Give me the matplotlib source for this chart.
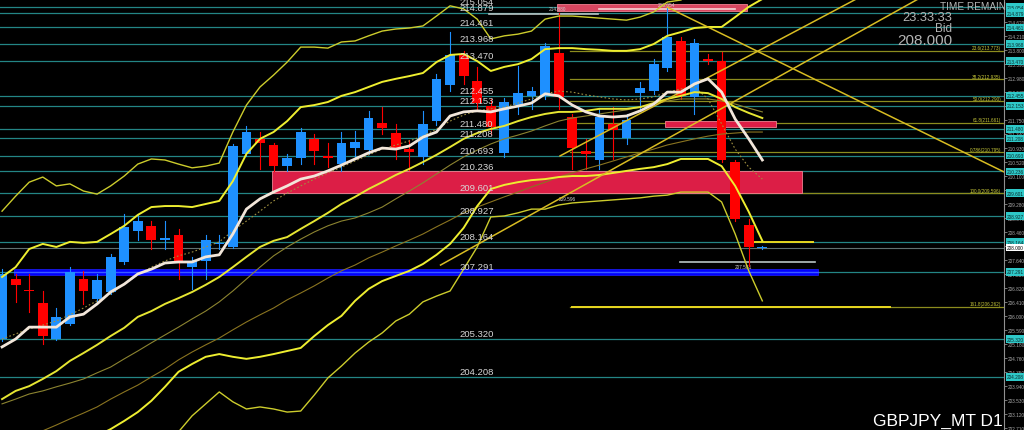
import matplotlib
matplotlib.use('Agg')
from matplotlib import pyplot as plt
from matplotlib.patches import Rectangle

plt.rcParams['font.family'] = ['Liberation Sans', 'DejaVu Sans']

# GBPJPY D1 candles, oldest first
OPEN = [205.32, 207.08, 206.76, 206.38, 205.32, 205.76, 207.08, 206.50, 206.70, 207.58,
        208.49, 208.64, 208.23, 208.37, 207.43, 207.61, 208.11, 208.02, 210.75, 211.19,
        211.01, 210.39, 210.63, 211.19, 210.69, 210.45, 210.92, 210.86, 211.65, 211.36,
        210.89, 210.66, 211.71, 212.77, 213.65, 212.89, 212.15, 210.78, 212.18, 212.45,
        212.45, 213.71, 211.83, 210.83, 210.57, 211.63, 211.21, 212.53, 212.59, 213.27,
        214.06, 212.42, 213.53, 213.47, 210.51, 208.66, 207.99]
HIGH = [207.37, 207.23, 207.23, 206.73, 206.23, 207.43, 207.32, 207.23, 207.82, 208.99,
        208.99, 208.78, 208.78, 208.55, 207.73, 208.37, 208.37, 211.04, 211.57, 211.39,
        211.07, 210.75, 211.51, 211.33, 211.07, 211.39, 211.42, 212.01, 212.12, 211.63,
        211.16, 212.01, 213.09, 214.32, 213.77, 213.30, 212.36, 212.39, 213.33, 212.71,
        214.00, 214.88, 211.92, 211.19, 212.07, 212.12, 211.92, 212.86, 213.53, 215.05,
        214.17, 214.12, 213.68, 213.74, 210.57, 208.84, 208.05]
LOW = [205.26, 206.41, 206.11, 205.18, 205.29, 205.73, 206.35, 206.35, 206.64, 207.52,
       208.23, 207.96, 207.96, 207.08, 206.79, 207.08, 207.96, 208.00, 210.69, 210.31,
       210.25, 210.25, 210.45, 210.45, 210.36, 210.25, 210.60, 210.75, 211.33, 210.60,
       210.28, 210.45, 211.60, 212.59, 212.80, 212.07, 211.33, 210.66, 211.92, 212.07,
       212.36, 212.07, 210.31, 210.31, 210.31, 210.60, 211.04, 212.07, 212.50, 213.18,
       212.36, 211.92, 213.38, 210.51, 208.78, 207.46, 207.96]
CLOSE = [207.23, 206.91, 206.73, 205.41, 205.97, 207.29, 206.73, 207.05, 207.73, 208.61,
         208.78, 208.23, 208.28, 207.61, 207.61, 208.23, 208.14, 210.98, 211.39, 211.07,
         210.39, 210.63, 211.39, 210.83, 210.63, 211.07, 211.10, 211.80, 211.51, 210.92,
         210.80, 211.63, 212.94, 213.65, 213.03, 212.24, 211.54, 212.27, 212.53, 212.59,
         213.91, 212.42, 210.92, 210.75, 211.83, 211.45, 211.74, 212.68, 213.38, 214.17,
         212.45, 214.00, 213.47, 210.57, 208.84, 208.02, 208.00]

# indicators
WHITE_MA = [205.09, 205.32, 205.67, 205.67, 205.67, 205.97, 206.05, 206.35, 206.70, 206.93,
            207.23, 207.37, 207.55, 207.58, 207.58, 207.73, 207.79, 208.40, 209.13, 209.43,
            209.63, 209.81, 210.01, 210.10, 210.25, 210.42, 210.60, 210.78, 210.92, 210.89,
            210.98, 211.24, 211.39, 211.86, 211.98, 212.01, 211.98, 212.07, 212.15, 212.24,
            212.51, 212.45, 212.18, 211.98, 211.86, 211.83, 211.86, 212.01, 212.21, 212.56,
            212.56, 212.80, 212.95, 212.56, 211.77, 211.19, 210.57]
BB_UP3 = [209.07, 209.51, 209.92, 210.07, 209.81, 209.87, 209.66, 209.57, 209.81, 210.10,
          210.45, 210.60, 210.57, 210.45, 210.34, 210.39, 210.48, 211.39, 212.18, 212.71,
          213.06, 213.44, 213.88, 213.88, 213.85, 214.03, 214.06, 214.21, 214.35, 214.41,
          214.44, 214.50, 214.79, 215.09, 215.00, 214.70, 214.12, 214.21, 214.26, 214.35,
          214.70, 214.79, 214.79, 214.76, 214.73, 214.70, 214.67, 214.76, 214.91, 215.20,
          215.26, 215.50, 215.44, 215.38, 215.85, 216.58, 217.17]
BB_UP2 = [207.14, 207.43, 207.96, 208.11, 208.02, 208.17, 208.14, 208.17, 208.40, 208.64,
          208.96, 209.19, 209.22, 209.22, 209.19, 209.28, 209.37, 209.95, 210.75, 211.19,
          211.39, 211.71, 212.12, 212.18, 212.27, 212.45, 212.56, 212.71, 212.86, 212.95,
          213.03, 213.12, 213.44, 213.65, 213.68, 213.47, 213.18, 213.30, 213.38, 213.53,
          213.82, 213.85, 213.85, 213.82, 213.80, 213.77, 213.77, 213.82, 213.97, 214.21,
          214.32, 214.44, 214.47, 214.47, 214.76, 215.06, 215.29]
BB_MID = [203.56, 203.80, 203.94, 204.15, 204.38, 204.68, 204.91, 205.15, 205.41, 205.65,
          205.97, 206.14, 206.35, 206.52, 206.70, 206.91, 207.14, 207.43, 207.73, 208.02,
          208.20, 208.31, 208.55, 208.78, 209.02, 209.28, 209.49, 209.72, 209.92, 210.13,
          210.31, 210.51, 210.72, 210.95, 211.19, 211.36, 211.48, 211.57, 211.71, 211.83,
          211.92, 211.98, 211.98, 212.01, 212.07, 212.07, 212.07, 212.12, 212.24, 212.36,
          212.45, 212.56, 212.53, 212.36, 212.12, 211.95, 211.80]
BB_LOW2 = [200.05, 200.49, 200.93, 201.28, 201.63, 201.95, 202.24, 202.48, 202.68, 202.92,
           203.18, 203.51, 203.92, 204.36, 204.59, 204.80, 204.88, 204.80, 204.74, 204.80,
           204.88, 204.97, 205.06, 205.41, 205.73, 206.00, 206.44, 206.79, 207.02, 207.17,
           207.32, 207.52, 207.79, 208.11, 208.58, 209.22, 209.72, 209.84, 209.92, 209.98,
           210.01, 210.07, 210.10, 210.10, 210.13, 210.19, 210.25, 210.31, 210.36, 210.45,
           210.60, 210.60, 210.60, 210.39, 209.81, 209.05, 208.20]
BB_LOW3 = [198.05, 198.08, 197.96, 198.23, 198.96, 199.49, 200.16, 200.72, 201.01, 201.19,
           201.48, 201.69, 202.13, 202.60, 203.07, 203.42, 203.77, 203.48, 203.27, 203.33,
           203.27, 203.18, 203.21, 203.68, 204.18, 204.53, 204.91, 205.23, 205.50, 205.85,
           206.05, 206.41, 206.58, 206.73, 207.37, 208.02, 208.90, 208.93, 209.02, 209.13,
           209.13, 209.25, 209.31, 209.34, 209.37, 209.40, 209.43, 209.46, 209.51, 209.54,
           209.63, 209.63, 209.63, 209.34, 208.40, 207.32, 206.44]
MA_FAST = [205.32, 205.47, 205.62, 205.73, 205.85, 206.03, 206.23, 206.44, 206.64, 206.93,
           207.20, 207.43, 207.61, 207.76, 207.87, 208.02, 208.17, 208.49, 208.78, 209.07,
           209.37, 209.60, 209.81, 210.01, 210.19, 210.36, 210.54, 210.72, 210.89, 211.01,
           211.13, 211.27, 211.48, 211.71, 211.89, 212.01, 212.07, 212.12, 212.24, 212.36,
           212.51, 212.59, 212.56, 212.48, 212.42, 212.36, 212.33, 212.36, 212.42, 212.56,
           212.65, 212.71, 212.36, 211.63, 210.89, 210.36, 210.01]
MA_MID = [203.42, 203.56, 203.71, 203.80, 203.92, 204.03, 204.15, 204.33, 204.50, 204.74,
          204.97, 205.21, 205.44, 205.67, 205.91, 206.14, 206.41, 206.73, 207.08, 207.43,
          207.76, 208.02, 208.25, 208.46, 208.64, 208.78, 208.87, 209.02, 209.19, 209.43,
          209.66, 209.90, 210.16, 210.42, 210.66, 210.86, 211.04, 211.19, 211.30, 211.42,
          211.57, 211.71, 211.80, 211.86, 211.92, 211.98, 212.04, 212.12, 212.21, 212.30,
          212.36, 212.36, 212.36, 212.30, 212.21, 212.09, 211.98]
MA_SLOW = [202.10, 202.27, 202.45, 202.63, 202.80, 202.98, 203.15, 203.33, 203.56, 203.77,
           203.97, 204.21, 204.44, 204.71, 204.94, 205.15, 205.35, 205.59, 205.82, 206.03,
           206.23, 206.47, 206.67, 206.88, 207.11, 207.32, 207.49, 207.70, 207.87, 208.05,
           208.22, 208.40, 208.61, 208.81, 209.02, 209.19, 209.34, 209.49, 209.63, 209.78,
           209.92, 210.07, 210.19, 210.31, 210.42, 210.54, 210.66, 210.78, 210.89, 211.01,
           211.10, 211.19, 211.27, 211.33, 211.36, 211.39, 211.39]

# horizontal levels
LEVELS = [215.054, 214.879, 214.461, 213.968, 213.470, 212.455, 212.153, 211.480, 211.208,
          210.693, 210.236, 209.601, 208.927, 208.164, 207.291, 205.320, 204.208]
FIB_PCT = ['23.6', '38.2', '50.0', '61.8', '0.786', '100.0', '161.8']
FIB_PRICE = [213.773, 212.935, 212.290, 211.661, 210.795, 209.596, 206.262]
AXIS_TICKS = [214.620, 214.210, 213.800, 213.390, 212.980, 212.570, 212.160, 211.750,
              211.340, 210.930, 210.520, 210.100, 209.690, 209.280, 208.870, 208.460,
              208.050, 207.640, 207.230, 206.820, 206.410, 206.000, 205.590, 205.180,
              204.760, 204.350, 203.940, 203.530, 203.120, 202.710]
BID = 208.000

# rectangles: bar from, bar to, price low, price high
ZONE_MAIN = (19.9, 58.9, 209.60, 210.25)
ZONE_TOP = (40.9, 54.9, 214.94, 215.14)
ZONE_MID = (48.8, 57.0, 211.54, 211.71)
BLUE_BAND = (0.9, 60.1, 207.20, 207.37)

# trend lines: bars, prices
TREND_DOWN = ([49.0, 73.8], [215.05, 210.22])
CHANNEL_A = ([41.1, 66.1], [210.69, 215.96])
CHANNEL_B = ([32.3, 70.5], [207.49, 215.96])

# short horizontal segments: bar from, bar to, price
SEG_YELLOW = [(42.0, 65.4, 206.262), (54.9, 59.7, 208.17)]
SEG_GRAY = [(49.9, 59.9, 207.581), (35.9, 43.9, 214.85)]
SEG_WHITE_TOP = (44.0, 54.0, 215.01)


def draw_chart():
    fig = plt.figure(figsize=(10.24, 4.31), dpi=100, facecolor='black')
    ax = fig.add_axes([0, 0, 1004 / 1024, 1])
    ax.set_facecolor('black')
    ax.set_xlim(-0.15, 73.8)
    ax.set_ylim(202.654, 215.29)

    # levels
    for lvl in LEVELS:
        ax.axhline(lvl, color='#238585', lw=0.9, zorder=1)
        ax.annotate(f'{lvl:.3f}', (33.7, lvl), xytext=(0, 0.5), textcoords='offset points',
                    ha='left', va='bottom', fontsize=6.8, color='#d8d8d8', zorder=6)
        ax.text(1.003, lvl, f'{lvl:.3f}', transform=ax.get_yaxis_transform(),
                fontsize=3.4, color='#0a2a2a', va='center', ha='left', clip_on=False,
                zorder=10, bbox=dict(boxstyle='square,pad=0.25', fc='#2ec8c8', ec='none'))
    ax.axhline(BID, color='#607070', lw=0.8, zorder=1)
    ax.text(1.003, BID, f'{BID:.3f}', transform=ax.get_yaxis_transform(),
            fontsize=3.4, color='black', va='center', ha='left', clip_on=False,
            zorder=10, bbox=dict(boxstyle='square,pad=0.25', fc='white', ec='none'))

    # fibonacci
    for pct, p in zip(FIB_PCT, FIB_PRICE):
        ax.plot([41.8, 73.8], [p, p], color='#8c8c1e', lw=0.9, zorder=1.2)
        ax.annotate(f'{pct}({p:.3f})', (73.6, p), xytext=(0, 0.5), textcoords='offset points',
                    ha='right', va='bottom', fontsize=3.3, color='#c8c83a', zorder=6)

    # zones
    for (x0, x1, lo, hi), fc in [(ZONE_MAIN, '#dc1e46'), (ZONE_TOP, '#d84660'),
                                 (ZONE_MID, '#dc1e46')]:
        ax.add_patch(Rectangle((x0, lo), x1 - x0, hi - lo, fc=fc, ec='#f08090', lw=0.6,
                               zorder=2))
    x0, x1, lo, hi = BLUE_BAND
    ax.add_patch(Rectangle((x0, lo), x1 - x0, hi - lo, fc='#0000ff', ec='#2020ff', lw=0.5,
                           zorder=2.5))
    ax.plot([x0, x1], [(lo + hi) / 2] * 2, color='#3a5cff', lw=1.0, zorder=2.6)
    x0, x1, p = SEG_WHITE_TOP
    ax.plot([x0, x1], [p, p], color='#f4d6d6', lw=1.2, zorder=2.7)
    for x0, x1, p in SEG_YELLOW:
        ax.plot([x0, x1], [p, p], color='#e8d820', lw=1.4, zorder=2.7)
    for x0, x1, p in SEG_GRAY:
        ax.plot([x0, x1], [p, p], color='#b8c4c4', lw=1.2, zorder=2.7)

    # small price tags
    ax.text(41.6, 209.52, '209.596', fontsize=3.4, color='#d0d0d0', ha='center', va='top')
    ax.text(54.6, 207.52, '207.581', fontsize=3.4, color='#d0d0d0', ha='center', va='top')
    ax.text(40.9, 214.93, '214.880', fontsize=3.4, color='#d0d0d0', ha='center', va='bottom')
    ax.text(48.9, 215.07, '215.054', fontsize=3.4, color='#d0d0d0', ha='center', va='bottom')

    # candles
    idx = list(range(len(OPEN)))
    for i in idx:
        o, h, l, c = OPEN[i], HIGH[i], LOW[i], CLOSE[i]
        col = '#1e90ff' if c >= o else '#ff0000'
        ax.plot([i, i], [l, h], color=col, lw=0.8, zorder=3)
        body = max(abs(c - o), 0.04)
        ax.add_patch(Rectangle((i - 0.36, min(o, c)), 0.72, body, fc=col, ec='none', zorder=3))

    # bands and averages
    ax.plot(idx, MA_SLOW, color='#8a7420', lw=0.8, zorder=3.5)
    ax.plot(idx, MA_MID, color='#8c8430', lw=0.8, zorder=3.5)
    ax.plot(idx, MA_FAST, color='#a09040', lw=0.8, ls=(0, (1.5, 2)), zorder=3.5)
    ax.plot(idx, BB_UP3, color='#cccc2c', lw=1.0, zorder=4)
    ax.plot(idx, BB_LOW3, color='#cccc2c', lw=1.0, zorder=4)
    ax.plot(idx, BB_UP2, color='#eeee30', lw=1.4, zorder=4)
    ax.plot(idx, BB_LOW2, color='#eeee30', lw=1.4, zorder=4)
    ax.plot(idx, BB_MID, color='#e6e632', lw=1.4, zorder=4)
    ax.plot(idx, WHITE_MA, color='#f2e6da', lw=2.0, zorder=5)

    # trend lines
    for xs, ys in [TREND_DOWN, CHANNEL_A, CHANNEL_B]:
        ax.plot(xs, ys, color='#d8bc22', lw=1.1, zorder=4.5)

    # axis
    for side in ['top', 'left', 'bottom']:
        ax.spines[side].set_visible(False)
    ax.spines['right'].set_color('#909090')
    ax.spines['right'].set_linewidth(0.8)
    ax.set_xticks([])
    ax.yaxis.tick_right()
    ax.set_yticks(AXIS_TICKS)
    ax.set_yticklabels([f'{t:.3f}' for t in AXIS_TICKS])
    ax.tick_params(axis='y', colors='#a8a8a8', labelsize=3.4, length=2, width=0.5, pad=1)

    # texts
    fig.text(940 / 1024, 1 - 7 / 431, 'TIME REMAIN', fontsize=7.2, color='#b4b4b4',
             ha='left', va='center')
    fig.text(952 / 1024, 1 - 18 / 431, '23:33:33', fontsize=9.3, color='#b4b4b4',
             ha='right', va='center')
    fig.text(952 / 1024, 1 - 29 / 431, 'Bid', fontsize=8.5, color='#b4b4b4',
             ha='right', va='center')
    fig.text(952 / 1024, 1 - 41 / 431, '208.000', fontsize=11, color='#b4b4b4',
             ha='right', va='center')
    fig.text(1003 / 1024, 1 - 421 / 431, 'GBPJPY_MT D1', fontsize=12.5, color='white',
             ha='right', va='center')

    fig.savefig('out.png', dpi=100, facecolor='black')


if __name__ == '__main__':
    draw_chart()
